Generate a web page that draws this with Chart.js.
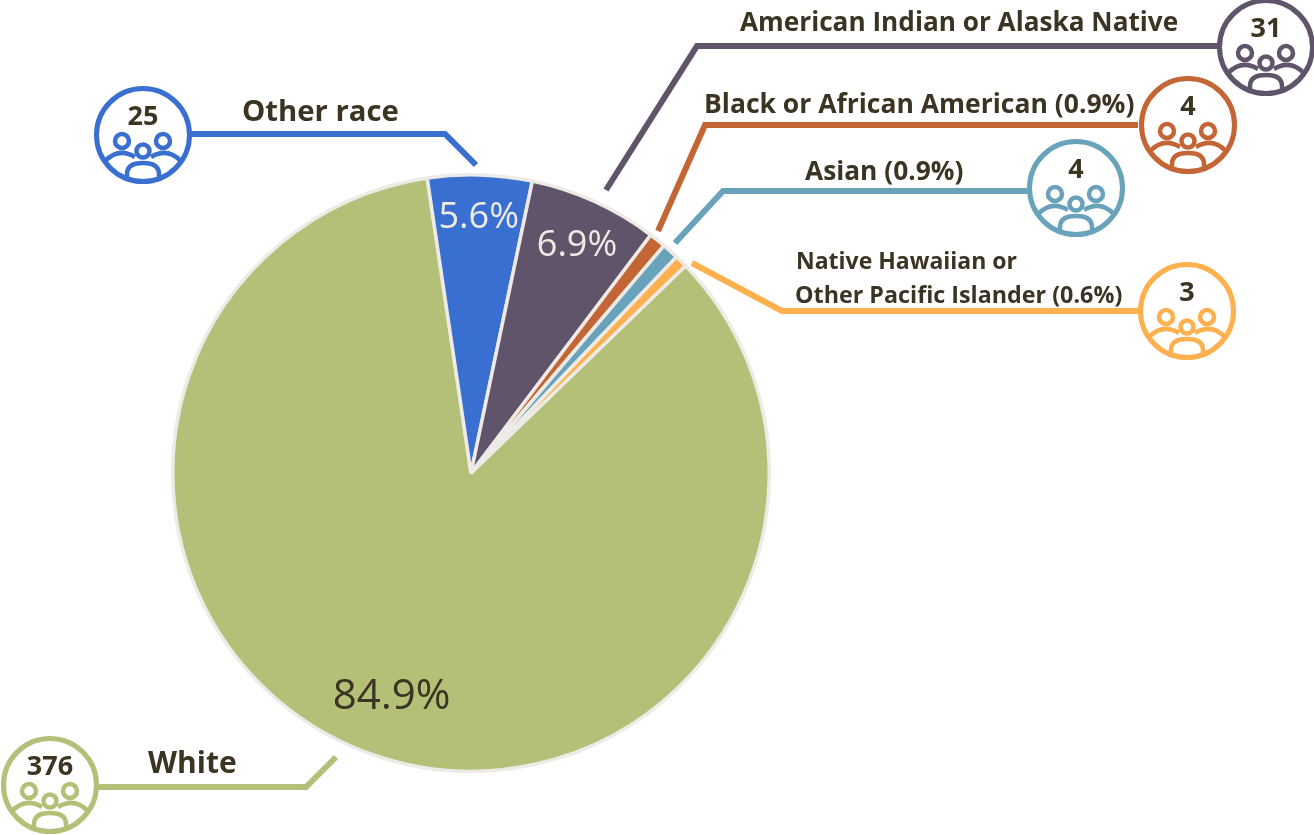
<!DOCTYPE html>
<html>
<head>
<meta charset="utf-8">
<title>Race</title>
<script src="https://cdn.jsdelivr.net/npm/chart.js@4"></script>
<style>
    html, body { margin: 0; padding: 0; background: #fff; }
    canvas { display: block; }
</style>
</head>
<body>
<canvas id="pie_chart" width="1314" height="835"></canvas>
<script>
const categories = ['White', 'Other race', 'American Indian or Alaska Native', 'Black or African American', 'Asian', 'Native Hawaiian or Other Pacific Islander'];
const counts = [376, 25, 31, 4, 4, 3];
const shares = ['84.9%', '5.6%', '6.9%', '0.9%', '0.9%', '0.6%'];
const colors = ['#b4bf78', '#386fd0', '#5f5469', '#c46535', '#69a3bb', '#fcb04e'];

const ink = '#3c3423';
const edge = '#eeeae5';

// callout layout, same order as categories
const callouts = [
    { circle: [50, 785], line: [[98, 787], [306, 787], [336, 757]], text: [['White', 148, 764, 30]] },
    { circle: [143, 135], line: [[190, 134], [445, 134], [476, 165]], text: [['Other race', 242, 113, 29.3]] },
    { circle: [1266, 47], line: [[1219, 46], [697, 46], [606, 190]], text: [['American Indian or Alaska Native', 740, 24, 26.2]] },
    { circle: [1188, 125], line: [[1138, 125], [705, 125], [658, 231]], text: [['Black or African American (0.9%)', 704, 105, 26.5]] },
    { circle: [1076, 188], line: [[1030, 191], [723, 191], [675, 243]], text: [['Asian (0.9%)', 805, 173, 26.3]] },
    { circle: [1187, 311], line: [[1140, 311], [782, 311], [692, 263]], text: [['Native Hawaiian or', 796, 262, 23], ['Other Pacific Islander (0.6%)', 795, 296, 23.3]] },
];

// 3 people glyph, drawn around the circle center
function draw_people(ctx, cx, cy) {
    ctx.lineWidth = 4.5;
    const heads = [[-21, 6, 7], [20, 6, 7], [0, 16, 6.5]];
    heads.forEach((h) => {
        ctx.beginPath();
        ctx.arc(cx + h[0], cy + h[1], h[2], 0, Math.PI * 2);
        ctx.stroke();
    });
    ctx.beginPath();
    ctx.moveTo(cx - 38, cy + 26);
    ctx.quadraticCurveTo(cx - 24, cy + 12, cx - 8, cy + 22);
    ctx.moveTo(cx + 38, cy + 26);
    ctx.quadraticCurveTo(cx + 24, cy + 12, cx + 8, cy + 22);
    ctx.stroke();
    ctx.beginPath();
    ctx.moveTo(cx - 16, cy + 43);
    ctx.lineTo(cx - 16, cy + 39);
    ctx.bezierCurveTo(cx - 16, cy + 31, cx - 9, cy + 28, cx, cy + 28);
    ctx.bezierCurveTo(cx + 9, cy + 28, cx + 16, cy + 31, cx + 16, cy + 39);
    ctx.lineTo(cx + 16, cy + 43);
    ctx.stroke();
}

const calloutPlugin = {
    id: 'callouts',
    afterDraw(chart) {
        const ctx = chart.ctx;
        const arcs = chart.getDatasetMeta(0).data;
        ctx.save();
        ctx.textBaseline = 'middle';

        // share labels inside the big slices: radius fraction, nudge x, nudge y, font size
        const labelPos = [[0.785, -4, 2, 42], [0.865, 0, 3, 36], [0.85, 1, 4, 36]];
        labelPos.forEach((p, i) => {
            const a = arcs[i].getProps(['x', 'y', 'startAngle', 'endAngle', 'outerRadius'], true);
            const mid = (a.startAngle + a.endAngle) / 2;
            ctx.font = p[3] + 'px "Open Sans"';
            ctx.fillStyle = i == 0 ? ink : edge;
            ctx.textAlign = 'center';
            ctx.fillText(shares[i], a.x + Math.cos(mid) * a.outerRadius * p[0] + p[1], a.y + Math.sin(mid) * a.outerRadius * p[0] + p[2]);
        });

        callouts.forEach((c, i) => {
            ctx.strokeStyle = colors[i];
            ctx.lineWidth = 6;
            ctx.lineJoin = 'miter';
            ctx.beginPath();
            c.line.forEach((p, n) => {
                if (n == 0) ctx.moveTo(p[0], p[1]);
                else ctx.lineTo(p[0], p[1]);
            });
            ctx.stroke();

            ctx.fillStyle = '#fff';
            ctx.lineWidth = 5;
            ctx.beginPath();
            ctx.arc(c.circle[0], c.circle[1], 46.5, 0, Math.PI * 2);
            ctx.fill();
            ctx.stroke();
            draw_people(ctx, c.circle[0], c.circle[1]);

            ctx.fillStyle = ink;
            ctx.textAlign = 'center';
            ctx.font = 'bold 27px "Open Sans"';
            ctx.fillText(counts[i], c.circle[0], c.circle[1] - 18);

            ctx.textAlign = 'left';
            c.text.forEach((t) => {
                ctx.font = 'bold ' + t[3] + 'px "Open Sans"';
                ctx.fillText(t[0], t[1], t[2]);
            });
        });
        ctx.restore();
    }
};

new Chart(document.getElementById('pie_chart').getContext('2d'), {
    type: 'pie',
    data: {
        labels: categories,
        datasets: [{
            data: counts,
            backgroundColor: colors,
            borderColor: edge,
            borderWidth: 3.5,
            hoverOffset: 0
        }]
    },
    options: {
        responsive: false,
        animation: false,
        rotation: 46,
        layout: { padding: { left: 171, right: 543, top: 173, bottom: 62 } },
        plugins: {
            legend: { display: false },
            tooltip: { enabled: false }
        }
    },
    plugins: [calloutPlugin]
});
</script>
</body>
</html>
